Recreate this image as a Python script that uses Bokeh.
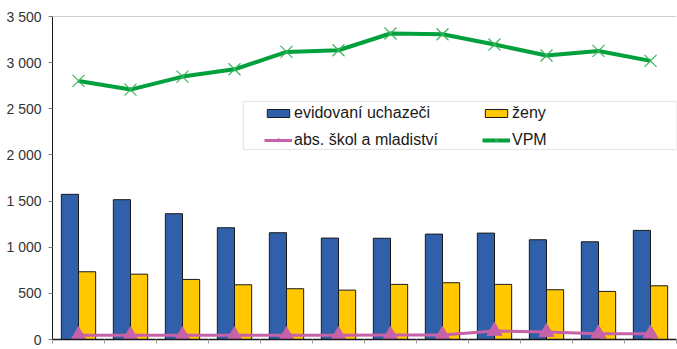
from bokeh.plotting import figure
from bokeh.models import (Range1d, FixedTicker, CustomJSTickFormatter, Legend, LegendItem,
                          Span, BoxAnnotation, ColumnDataSource)
from bokeh.transform import dodge
from bokeh.embed import file_html
from bokeh.resources import INLINE

# ---- data ----
months = list(range(1, 13))
evidovani = [1573, 1515, 1363, 1211, 1157, 1099, 1097, 1142, 1153, 1081, 1059, 1182]
zeny = [734, 708, 651, 593, 550, 535, 597, 615, 597, 539, 521, 582]
absolventi = [45, 45, 45, 45, 45, 45, 48, 50, 92, 80, 62, 62]
vpm = [2802, 2708, 2849, 2928, 3116, 3134, 3316, 3308, 3196, 3077, 3127, 3019]
y_ticks = [0, 500, 1000, 1500, 2000, 2500, 3000, 3500]
series_labels = ["evidovaní uchazeči", "ženy", "abs. škol a mladiství", "VPM"]

# ---- style ----
FONT = "Liberation Sans"
BLUE = "#3060aa"
YELLOW = "#ffc800"
PINK = "#c862a8"
GREEN = "#00a03c"
GREEN_M = "#3cb45a"
FRAME_W, FRAME_H = 624, 323
Y_MAX = 3500

src = ColumnDataSource(dict(x=months, ev=evidovani, z=zeny, a=absolventi, v=vpm))

p = figure(frame_width=FRAME_W, frame_height=FRAME_H,
           x_range=Range1d(0.5, 12.5), y_range=Range1d(0, Y_MAX),
           output_backend="svg", toolbar_location=None,
           min_border_left=52, min_border_right=1, min_border_top=16, min_border_bottom=10)
p.outline_line_color = None
p.xgrid.grid_line_color = None
p.ygrid.grid_line_color = None
p.background_fill_color = "white"
p.border_fill_color = "white"

# top line at the y maximum
p.add_layout(Span(location=Y_MAX, dimension="width", line_color="#a0a0a0", line_width=1))

r_ev = p.vbar(x=dodge("x", -0.165, range=p.x_range), top="ev", width=0.33, source=src,
              fill_color=BLUE, line_color="#1a1a1a", line_width=1)
r_z = p.vbar(x=dodge("x", 0.165, range=p.x_range), top="z", width=0.33, source=src,
             fill_color=YELLOW, line_color="#1a1a1a", line_width=1)

r_al = p.line("x", "a", source=src, line_color=PINK, line_width=3)
r_as = p.scatter("x", "a", source=src, marker="triangle", size=15,
                 fill_color=PINK, line_color=PINK)
r_vl = p.line("x", "v", source=src, line_color=GREEN, line_width=4)
r_vs = p.scatter("x", "v", source=src, marker="x", size=17, line_color=GREEN_M, line_width=1.2)

# axes
ya = p.yaxis[0]
ya.ticker = FixedTicker(ticks=y_ticks)
ya.formatter = CustomJSTickFormatter(code="""
    const s = Math.round(tick).toString();
    return s.length > 3 ? s.slice(0, s.length-3) + ' ' + s.slice(s.length-3) : s;
""")
ya.major_tick_out = 4
ya.major_tick_in = 0
ya.minor_tick_out = 0
ya.minor_tick_in = 0
ya.axis_line_color = "#1a1a1a"
ya.major_tick_line_color = "#808080"
ya.major_label_text_font = FONT
ya.major_label_text_font_size = "14px"
ya.major_label_text_color = "#333333"
ya.major_label_standoff = 7

xa = p.xaxis[0]
xa.ticker = FixedTicker(ticks=[m + 0.5 for m in [0] + months])
xa.formatter = CustomJSTickFormatter(code="return '';")
xa.major_label_text_font = FONT
xa.major_label_text_font_size = "1px"
xa.major_label_standoff = 0
xa.major_tick_out = 4
xa.major_tick_in = 0
xa.minor_tick_out = 0
xa.minor_tick_in = 0
xa.major_tick_line_color = "#999999"
xa.axis_line_color = "#1a1a1a"
xa.axis_line_width = 1.5

# legend box
box_left, box_right, box_bottom, box_top = 4.17, 12.5, 2059, 2579
p.add_layout(BoxAnnotation(left=box_left, right=box_right, bottom=box_bottom, top=box_top,
                           fill_color="white", fill_alpha=1.0,
                           line_color="#a8a8a8", line_width=1))

LH = 16
leg_x_data = 4.577
leg_row2_data = 2180
lx = (leg_x_data - 0.5) * FRAME_W / 12.0
ly = leg_row2_data / Y_MAX * FRAME_H - LH / 2.0 - 3   # bottom of legend

legend = Legend(items=[
    LegendItem(label=series_labels[0], renderers=[r_ev]),
    LegendItem(label=series_labels[2], renderers=[r_al, r_as]),
    LegendItem(label=series_labels[1], renderers=[r_z]),
    LegendItem(label=series_labels[3], renderers=[r_vl, r_vs]),
], location=(lx, ly), ncols=2)
legend.padding = 0
legend.margin = 0
legend.border_line_color = None
legend.background_fill_alpha = 0
legend.label_text_font = FONT
legend.label_text_font_size = "16px"
legend.label_text_color = "#1a1a1a"
legend.glyph_width = 28
legend.glyph_height = 10
legend.label_height = LH
legend.label_width = 179
legend.label_standoff = 2
legend.spacing = 9
p.add_layout(legend)

open("out.html", "w").write(file_html(p, INLINE))
